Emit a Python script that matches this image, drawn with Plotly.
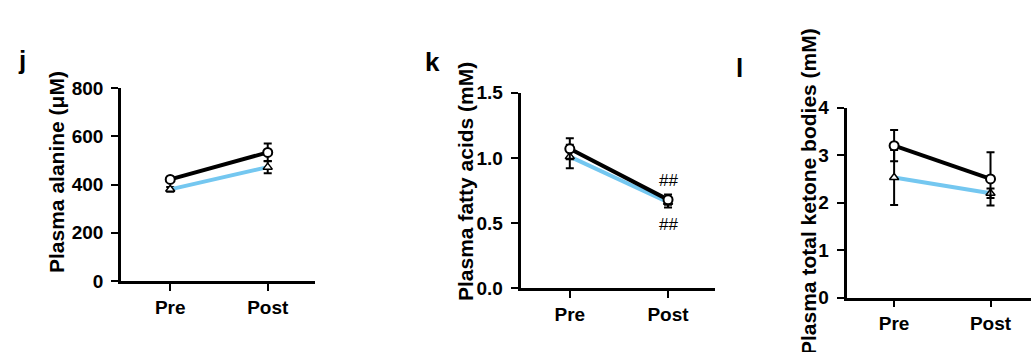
import plotly.graph_objects as go

# ---- data ----
timepoints = ["Pre", "Post"]

alanine_black = [421, 533]
alanine_black_err = [8, 37]
alanine_blue = [380, 472]
alanine_blue_err = [10, 25]

fa_black = [1.07, 0.68]
fa_black_err = [0.08, 0.04]
fa_blue = [1.01, 0.66]
fa_blue_err = [0.09, 0.04]
fa_marks = ["##", "##"]
fa_mark_y = [0.825, 0.486]

ket_black = [3.20, 2.50]
ket_black_err = [0.33, 0.56]
ket_blue = [2.53, 2.20]
ket_blue_err = [0.58, 0.10]

BLUE = "#74C7F0"
FONT = "Liberation Sans, Arial, sans-serif"
W, H = 1031, 352

panels = [
    dict(black=alanine_black, berr=alanine_black_err, blue=alanine_blue, lerr=alanine_blue_err,
         yr=[0, 800], dtick=200, fmt="d", xpx=(121, 315), ypx=(281, 88), xr=[-0.505, 1.485],
         title="Plasma alanine (μM)", tx=56, ty=172, label="j", lx=22, ly=60),
    dict(black=fa_black, berr=fa_black_err, blue=fa_blue, lerr=fa_blue_err,
         yr=[0, 1.5], dtick=0.5, fmt=".1f", xpx=(520.5, 715), ypx=(288.3, 92.7), xr=[-0.502, 1.478],
         title="Plasma fatty acids (mM)", tx=465, ty=182, label="k", lx=432, ly=62),
    dict(black=ket_black, berr=ket_black_err, blue=ket_blue, lerr=ket_blue_err,
         yr=[0, 4], dtick=1, fmt="d", xpx=(846.5, 1031), ypx=(297.7, 107.7), xr=[-0.494, 1.42],
         title="Plasma total ketone bodies (mM)", tx=808, ty=192, label="l", lx=739, ly=68),
]

fig = go.Figure()
xs = [0, 1]
annotations = []
for i, p in enumerate(panels, start=1):
    xa = "x" if i == 1 else f"x{i}"
    ya = "y" if i == 1 else f"y{i}"
    fig.add_trace(go.Scatter(
        x=xs, y=p["blue"], xaxis=xa, yaxis=ya, mode="lines+markers",
        line=dict(color=BLUE, width=4),
        marker=dict(symbol="triangle-up", size=8, color="white", line=dict(color="black", width=1.5)),
        error_y=dict(type="data", array=p["lerr"], color="black", thickness=2, width=4),
        showlegend=False, cliponaxis=False))
    fig.add_trace(go.Scatter(
        x=xs, y=p["black"], xaxis=xa, yaxis=ya, mode="lines+markers",
        line=dict(color="black", width=4),
        marker=dict(symbol="circle", size=9, color="white", line=dict(color="black", width=2)),
        error_y=dict(type="data", array=p["berr"], color="black", thickness=2, width=4),
        showlegend=False, cliponaxis=False))
    x0, x1 = p["xpx"]
    yb, yt = p["ypx"]
    axx = dict(domain=[x0 / W, x1 / W], range=p["xr"], anchor=ya,
               tickmode="array", tickvals=xs, ticktext=timepoints,
               showline=True, linecolor="black", linewidth=2.5, ticks="outside",
               ticklen=7, tickwidth=2, tickcolor="black", showgrid=False, zeroline=False,
               automargin=False,
               tickfont=dict(family=FONT, size=19, color="black", weight="bold"))
    axy = dict(domain=[(H - yb) / H, (H - yt) / H], range=p["yr"], anchor=xa,
               tickmode="linear", tick0=0, dtick=p["dtick"], tickformat=p["fmt"],
               showline=True, linecolor="black", linewidth=2.5, ticks="outside",
               ticklen=7, tickwidth=2, tickcolor="black", showgrid=False, zeroline=False,
               ticklabelstandoff=4, automargin=False,
               tickfont=dict(family=FONT, size=19, color="black", weight="bold"))
    fig.layout["xaxis" if i == 1 else f"xaxis{i}"] = axx
    fig.layout["yaxis" if i == 1 else f"yaxis{i}"] = axy
    annotations.append(dict(text=p["title"], x=p["tx"] / W, y=(H - p["ty"]) / H,
                            xref="paper", yref="paper", textangle=-90, showarrow=False,
                            xanchor="center", yanchor="middle",
                            font=dict(family=FONT, size=21, color="black", weight="bold")))
    annotations.append(dict(text=p["label"], x=p["lx"] / W, y=(H - p["ly"]) / H,
                            xref="paper", yref="paper", showarrow=False,
                            xanchor="center", yanchor="middle",
                            font=dict(family=FONT, size=26, color="black", weight="bold")))

for txt, yv in zip(fa_marks, fa_mark_y):
    annotations.append(dict(text=txt, x=1, y=yv, xref="x2", yref="y2", showarrow=False,
                            xanchor="center", yanchor="middle",
                            font=dict(family=FONT, size=17, color="black")))

fig.update_layout(width=W, height=H, margin=dict(l=0, r=0, t=0, b=0, pad=0),
                  plot_bgcolor="white", paper_bgcolor="white", annotations=annotations)
fig.write_html("out.html", config={"displayModeBar": False},
               post_script="document.body.style.margin='0';document.body.style.overflow='hidden';")
